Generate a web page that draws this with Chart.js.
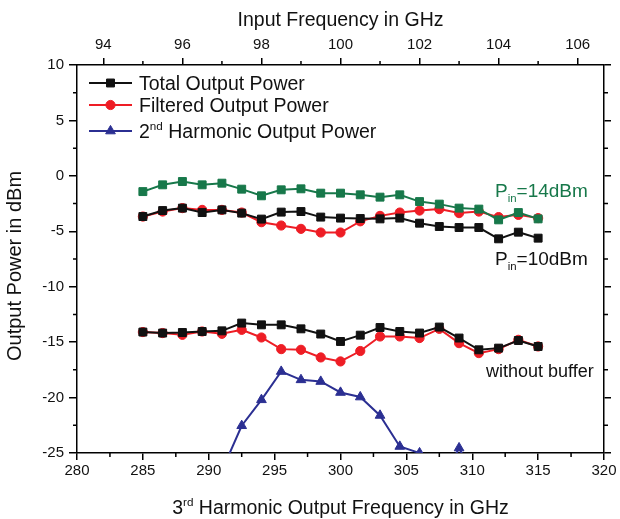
<!DOCTYPE html>
<html>
<head>
<meta charset="utf-8">
<script src="https://cdn.jsdelivr.net/npm/chart.js@4.4.1/dist/chart.umd.min.js"></script>
<style>
  html, body { margin: 0; padding: 0; background: #fff; }
  #wrap { width: 620px; height: 519px; }
</style>
</head>
<body>
<div id="wrap"><canvas id="chart"></canvas></div>
<script>
// 3rd harmonic output frequency in GHz
var freqs = [285, 286.5, 288, 289.5, 291, 292.5, 294, 295.5, 297, 298.5, 300, 301.5, 303, 304.5, 306, 307.5, 309, 310.5, 312, 313.5, 315];

// output power in dBm
var total14 = [-1.42, -0.81, -0.51, -0.81, -0.66, -1.2, -1.8, -1.26, -1.17, -1.56, -1.56, -1.71, -1.92, -1.71, -2.32, -2.55, -2.91, -3.0, -3.97, -3.31, -3.88];
var total10 = [-3.67, -3.13, -2.91, -3.31, -3.07, -3.36, -3.9, -3.27, -3.22, -3.72, -3.81, -3.85, -3.88, -3.81, -4.27, -4.57, -4.66, -4.66, -5.68, -5.08, -5.62];
var filtered10 = [-3.67, -3.22, -2.91, -3.07, -3.07, -3.31, -4.18, -4.48, -4.78, -5.11, -5.11, -4.1, -3.61, -3.31, -3.13, -3.0, -3.36, -3.22, -3.72, -3.52, -3.81];
var totalNoBuf = [-14.09, -14.18, -14.13, -14.04, -13.98, -13.28, -13.44, -13.44, -13.8, -14.27, -14.94, -14.37, -13.68, -14.04, -14.18, -13.64, -14.63, -15.69, -15.54, -14.85, -15.39];
var filteredNoBuf = [-14.09, -14.18, -14.34, -14.04, -14.25, -13.89, -14.58, -15.63, -15.69, -16.38, -16.74, -15.8, -14.49, -14.49, -14.63, -13.8, -15.09, -15.99, -15.63, -14.79, -15.39];
var harmonic2 = [null, null, null, null, -26.6, -22.54, -20.2, -17.65, -18.4, -18.55, -19.54, -19.95, -21.61, -24.41, -25.0, -28, -24.55, -28, null, null, null];

// axis ticks
var bottomTicks = [280, 285, 290, 295, 300, 305, 310, 315, 320];
var bottomMinor = [282.5, 287.5, 292.5, 297.5, 302.5, 307.5, 312.5, 317.5];
var topTicks = [94, 96, 98, 100, 102, 104, 106];
var topMinor = [95, 97, 99, 101, 103, 105];
var yTicks = [10, 5, 0, -5, -10, -15, -20, -25];
var yMinor = [7.5, 2.5, -2.5, -7.5, -12.5, -17.5, -22.5];

var BLACK = '#111111', RED = '#ee1d25', GREEN = '#17784a', BLUE = '#2b2f92';
var FONT = '"Liberation Sans", Arial, Helvetica, sans-serif';

Chart.defaults.font.family = FONT;
Chart.defaults.color = BLACK;

function pts(arr) {
    return freqs.map(function (f, i) { return { x: f, y: arr[i] }; });
}

function serie(label, arr, color, style, r) {
    return {
        label: label,
        data: pts(arr),
        borderColor: color,
        backgroundColor: color,
        pointBackgroundColor: color,
        pointBorderColor: color,
        pointStyle: style,
        pointRadius: r,
        pointBorderWidth: 1,
        borderWidth: 2,
        tension: 0,
        spanGaps: false
    };
}

// texte avec exposant / indice : [texte, 0 normal | 1 exposant | -1 indice]
function drawRich(ctx, parts, x, y, size, align) {
    var w = 0;
    parts.forEach(function (p) {
        ctx.font = (p[1] ? size * 0.6 : size) + 'px ' + FONT;
        w += ctx.measureText(p[0]).width;
    });
    var cx = align === 'center' ? x - w / 2 : x;
    ctx.textAlign = 'left';
    ctx.textBaseline = 'alphabetic';
    parts.forEach(function (p) {
        ctx.font = (p[1] ? size * 0.6 : size) + 'px ' + FONT;
        var dy = p[1] === 1 ? -size * 0.42 : (p[1] === -1 ? size * 0.28 : 0);
        ctx.fillText(p[0], cx, y + dy);
        cx += ctx.measureText(p[0]).width;
    });
}

function drawMarker(ctx, style, r, x, y, color) {
    ctx.fillStyle = color;
    ctx.strokeStyle = color;
    ctx.lineWidth = 1;
    if (Chart.helpers && Chart.helpers.drawPoint) {
        Chart.helpers.drawPoint(ctx, { pointStyle: style, radius: r, borderWidth: 1, rotation: 0 }, x, y);
        return;
    }
    ctx.beginPath();
    if (style === 'rect') {
        var s = r * Math.SQRT1_2;
        ctx.rect(x - s, y - s, 2 * s, 2 * s);
    } else if (style === 'circle') {
        ctx.arc(x, y, r, 0, Math.PI * 2);
    } else {
        ctx.moveTo(x, y - r);
        ctx.lineTo(x + r * 0.866, y + r * 0.5);
        ctx.lineTo(x - r * 0.866, y + r * 0.5);
        ctx.closePath();
    }
    ctx.fill();
    ctx.stroke();
}

var legendItems = [
    { parts: [['Total Output Power', 0]], color: BLACK, style: 'rect', r: 5.6, y: 83 },
    { parts: [['Filtered Output Power', 0]], color: RED, style: 'circle', r: 4.6, y: 105 },
    { parts: [['2', 0], ['nd', 1], [' Harmonic Output Power', 0]], color: BLUE, style: 'triangle', r: 5.6, y: 131 }
];

var notes = [
    { parts: [['P', 0], ['in', -1], ['=14dBm', 0]], color: GREEN, x: 495, y: 197, size: 19 },
    { parts: [['P', 0], ['in', -1], ['=10dBm', 0]], color: BLACK, x: 495, y: 265, size: 19 },
    { parts: [['without buffer', 0]], color: BLACK, x: 486, y: 377, size: 18 }
];

var bottomTitle = [['3', 0], ['rd', 1], [' Harmonic Output Frequency in GHz', 0]];
var leftTitle = 'Output Power in dBm';

var extras = {
    id: 'extras',
    afterDraw: function (chart) {
        var ctx = chart.ctx, a = chart.chartArea, sc = chart.scales;
        ctx.save();

        // petites graduations
        ctx.strokeStyle = '#000';
        ctx.lineWidth = 1.5;
        ctx.beginPath();
        bottomMinor.forEach(function (v) {
            var px = sc.x.getPixelForValue(v);
            ctx.moveTo(px, a.bottom); ctx.lineTo(px, a.bottom + 4);
        });
        topMinor.forEach(function (v) {
            var px = sc.x2.getPixelForValue(v);
            ctx.moveTo(px, a.top); ctx.lineTo(px, a.top - 4);
        });
        yMinor.forEach(function (v) {
            var py = sc.y.getPixelForValue(v);
            ctx.moveTo(a.left, py); ctx.lineTo(a.left - 4, py);
            ctx.moveTo(a.right, py); ctx.lineTo(a.right + 4, py);
        });
        ctx.stroke();

        // légende
        legendItems.forEach(function (it) {
            ctx.strokeStyle = it.color;
            ctx.lineWidth = 2;
            ctx.beginPath();
            ctx.moveTo(89, it.y); ctx.lineTo(132, it.y);
            ctx.stroke();
            drawMarker(ctx, it.style, it.r, 110.5, it.y, it.color);
            ctx.fillStyle = BLACK;
            drawRich(ctx, it.parts, 139, it.y + 7, 19.5, 'left');
        });

        // annotations
        notes.forEach(function (n) {
            ctx.fillStyle = n.color;
            drawRich(ctx, n.parts, n.x, n.y, n.size, 'left');
        });

        // titres des axes bas et gauche
        ctx.fillStyle = BLACK;
        drawRich(ctx, bottomTitle, (a.left + a.right) / 2, 514, 19.5, 'center');

        ctx.save();
        ctx.translate(20.5, 266);
        ctx.rotate(-Math.PI / 2);
        ctx.font = '20px ' + FONT;
        ctx.textAlign = 'center';
        ctx.textBaseline = 'alphabetic';
        ctx.fillText(leftTitle, 0, 0);
        ctx.restore();

        ctx.restore();
    }
};

function axisGrid(len) {
    return { drawOnChartArea: false, drawTicks: true, tickLength: len, color: '#000', lineWidth: 1.5, tickWidth: 1.5 };
}
var axisBorder = { display: true, color: '#000', width: 1.5 };

var chart = new Chart(document.getElementById('chart'), {
    type: 'line',
    data: {
        datasets: [
            serie('Total Output Power 14dBm', total14, GREEN, 'rect', 5.6),
            serie('Total Output Power 10dBm', total10, BLACK, 'rect', 5.6),
            serie('Total Output Power without buffer', totalNoBuf, BLACK, 'rect', 5.6),
            serie('Filtered Output Power 10dBm', filtered10, RED, 'circle', 4.6),
            serie('Filtered Output Power without buffer', filteredNoBuf, RED, 'circle', 4.6),
            serie('2nd Harmonic Output Power', harmonic2, BLUE, 'triangle', 5.6)
        ]
    },
    options: {
        responsive: true,
        maintainAspectRatio: false,
        animation: false,
        layout: { padding: 0 },
        plugins: {
            legend: { display: false },
            tooltip: { enabled: false }
        },
        scales: {
            x: {
                type: 'linear', position: 'bottom', min: 280, max: 320,
                afterBuildTicks: function (s) { s.ticks = bottomTicks.map(function (v) { return { value: v }; }); },
                afterFit: function (s) { s.height = 66; },
                grid: axisGrid(7),
                border: axisBorder,
                ticks: { color: BLACK, font: { size: 15 }, padding: 2, maxRotation: 0, autoSkip: false }
            },
            x2: {
                type: 'linear', position: 'top', min: 280 / 3, max: 320 / 3,
                afterBuildTicks: function (s) { s.ticks = topTicks.map(function (v) { return { value: v }; }); },
                afterFit: function (s) { s.height = 65; },
                grid: axisGrid(7),
                border: axisBorder,
                ticks: { color: BLACK, font: { size: 15 }, padding: 4, maxRotation: 0, autoSkip: false },
                title: { display: true, text: 'Input Frequency in GHz', color: BLACK, font: { size: 19.5 }, padding: { top: 9 } }
            },
            y: {
                type: 'linear', position: 'left', min: -25, max: 10,
                afterBuildTicks: function (s) { s.ticks = yTicks.map(function (v) { return { value: v }; }); },
                afterFit: function (s) { s.width = 77; },
                grid: axisGrid(8),
                border: axisBorder,
                ticks: { color: BLACK, font: { size: 15 }, padding: 5, autoSkip: false }
            },
            y2: {
                type: 'linear', position: 'right', min: -25, max: 10,
                afterBuildTicks: function (s) { s.ticks = yTicks.map(function (v) { return { value: v }; }); },
                afterFit: function (s) { s.width = 16; },
                grid: axisGrid(7),
                border: axisBorder,
                ticks: { display: false }
            }
        }
    },
    plugins: [extras]
});
</script>
</body>
</html>
